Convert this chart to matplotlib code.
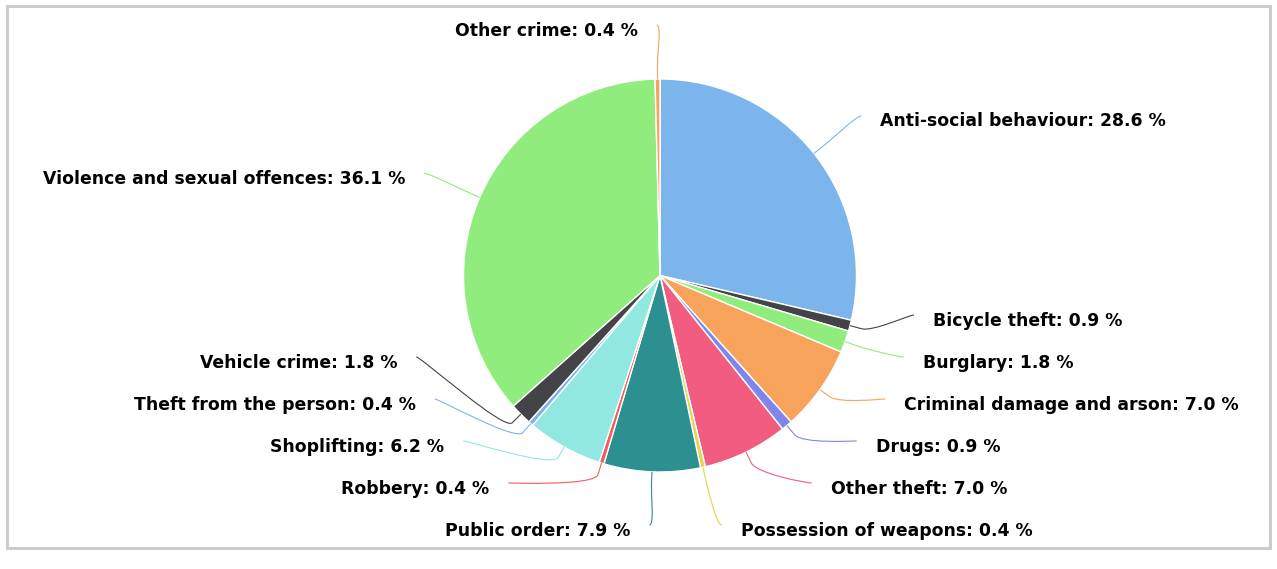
import numpy as np
import matplotlib.pyplot as plt
from matplotlib.path import Path
from matplotlib.patches import PathPatch, Rectangle

# crime categories in drawing order, clockwise from 12 o'clock
categories = ['Anti-social behaviour', 'Bicycle theft', 'Burglary',
              'Criminal damage and arson', 'Drugs', 'Other theft',
              'Possession of weapons', 'Public order', 'Robbery',
              'Shoplifting', 'Theft from the person', 'Vehicle crime',
              'Violence and sexual offences', 'Other crime']
shares = [28.6, 0.9, 1.8, 7.0, 0.9, 7.0, 0.4, 7.9, 0.4, 6.2, 0.4, 1.8, 36.1, 0.4]
colours = ['#7cb5ec', '#434348', '#90ed7d', '#f7a35c', '#8085e9', '#f15c80',
           '#e4d354', '#2b908f', '#f45b5b', '#91e8e1', '#7cb5ec', '#434348',
           '#90ed7d', '#f7a35c']

W, H = 1277, 569
cx, cy = 660, 275.5
r = 196.5
label_r = 257
gap = 42
top_y, bottom_y = 25, 525

fig = plt.figure(figsize=(W / 100, H / 100), dpi=100)
ax = fig.add_axes([0, 0, 1, 1])

# y runs downwards here, so counterclock=True looks clockwise
ax.pie(shares, colors=colours, startangle=-90, counterclock=True,
       radius=r, center=(cx, cy),
       wedgeprops=dict(edgecolor='white', linewidth=1))
ax.set_xlim(0, W)
ax.set_ylim(H, 0)
ax.set_aspect('equal')
ax.axis('off')

ax.add_patch(Rectangle((7, 6), W - 14, H - 27, fill=False,
                       edgecolor='#cccccc', linewidth=2.2))

frac = np.array(shares) / np.sum(shares)
mid = (np.cumsum(frac) - frac / 2) * 2 * np.pi
nat_y = cy - label_r * np.cos(mid)
right = mid < np.pi


def spread(ys):
    ys = list(ys)
    ys[-1] = min(ys[-1], bottom_y)
    for i in range(len(ys) - 2, -1, -1):
        ys[i] = min(ys[i], ys[i + 1] - gap)
    return ys


for side in (True, False):
    idx = [i for i in np.argsort(nat_y) if right[i] == side]
    ys = spread(nat_y[idx])
    s = 1 if side else -1
    for i, y in zip(idx, ys):
        # labels close to straight up/down keep their natural x
        if abs(np.sin(mid[i])) < np.sin(np.radians(8)):
            xl = cx + label_r * np.sin(mid[i])
        else:
            xl = cx + s * np.sqrt(max(label_r ** 2 - (y - cy) ** 2, 0))
        yl = min(max(y, top_y), bottom_y)
        tx, ty = cx + r * np.sin(mid[i]), cy - r * np.cos(mid[i])
        bx, by = cx + (r + 12) * np.sin(mid[i]), cy - (r + 12) * np.cos(mid[i])
        verts = [(xl, yl), (xl - 5 * s, yl), (2 * bx - tx, 2 * by - ty),
                 (bx, by), (tx, ty)]
        codes = [Path.MOVETO, Path.CURVE4, Path.CURVE4, Path.CURVE4, Path.LINETO]
        ax.add_patch(PathPatch(Path(verts, codes), fill=False,
                               edgecolor=colours[i], linewidth=0.8))
        ax.text(xl + s * 19, yl + 5.5, f'{categories[i]}: {shares[i]:.1f} %',
                ha='left' if side else 'right', va='center',
                fontsize=12.4, fontweight='bold', color='black')

fig.savefig('out.png', dpi=100)
